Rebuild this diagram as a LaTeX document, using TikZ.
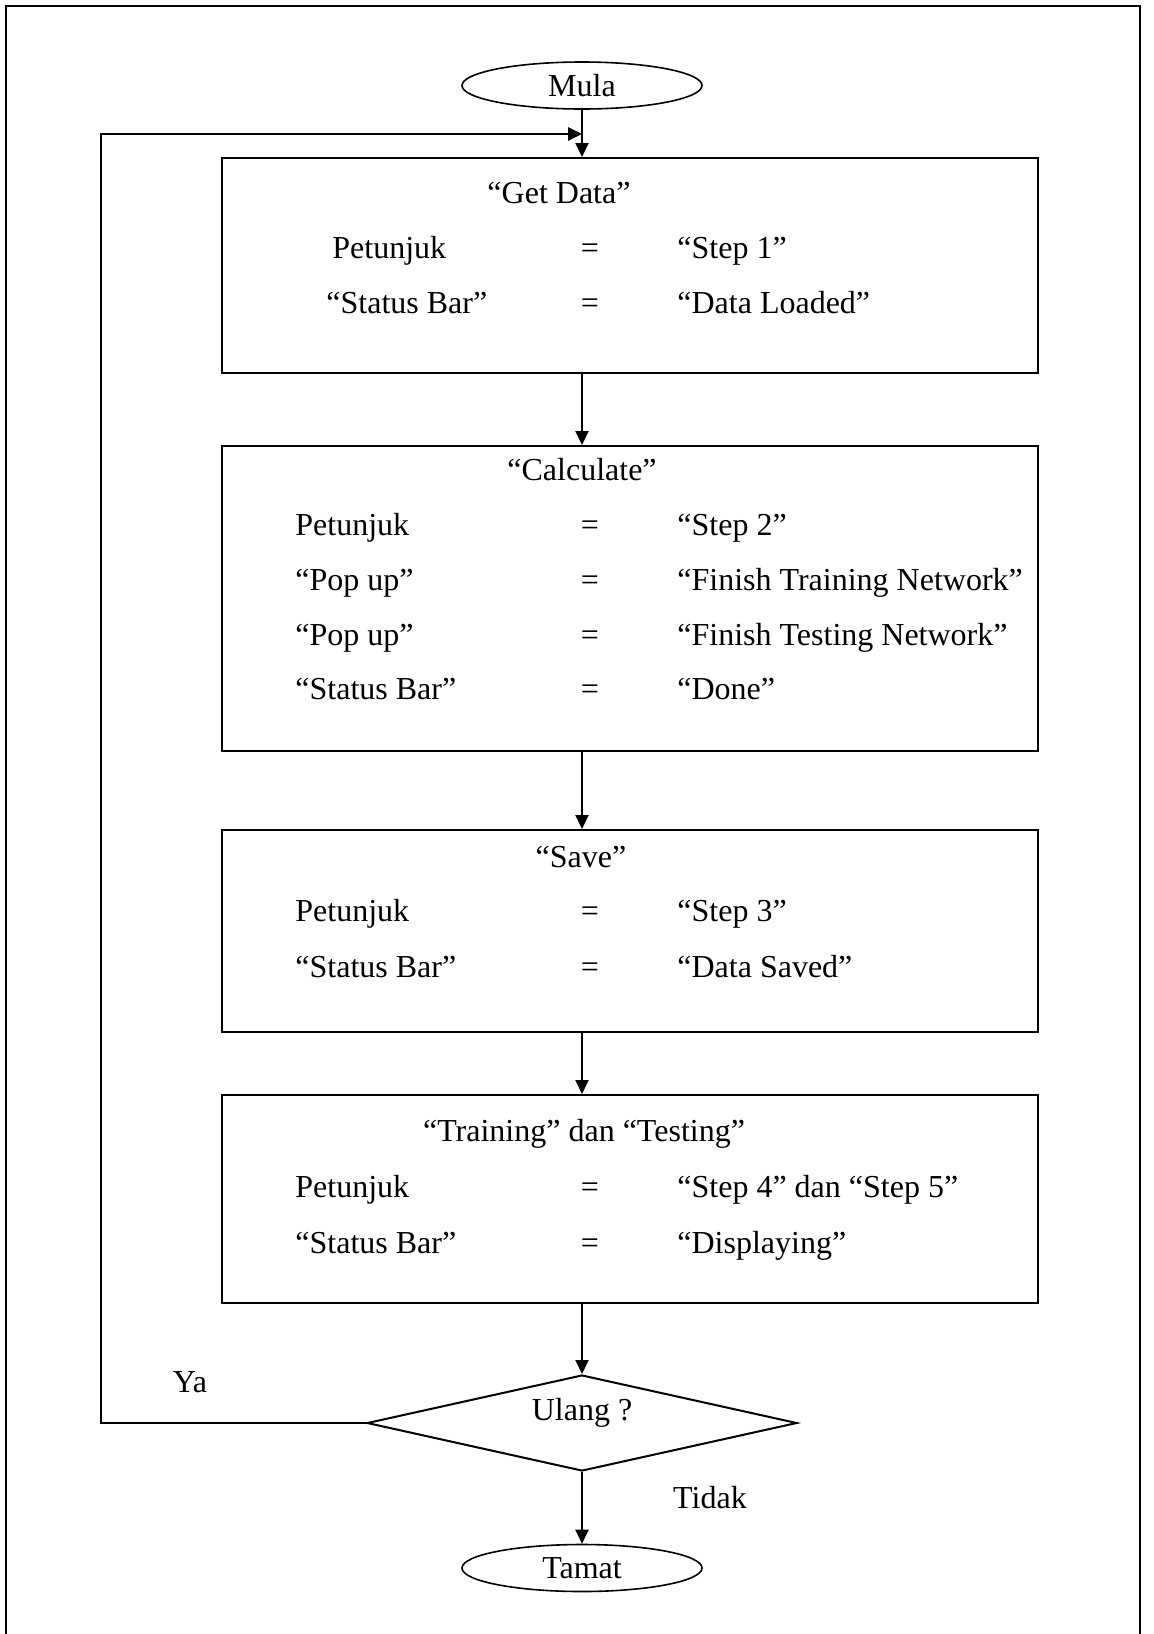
\documentclass[tikz,border=0pt]{standalone}
\usepackage{fontspec}
\setmainfont{Liberation Serif}
\usepackage{tikz}
\usetikzlibrary{positioning,arrows.meta,shapes.geometric}

\begin{document}
\begin{tikzpicture}[x=0.5pt, y=-0.5pt,
  font=\fontsize{16}{19}\selectfont, >={Triangle[length=7pt, width=6.5pt]},
  box/.style={draw, line width=1pt, minimum width=408pt, inner sep=0pt},
  term/.style={draw, ellipse, line width=0.8pt, minimum width=120pt, minimum height=23.5pt, inner sep=0pt},
  dia/.style={draw, diamond, aspect=4, line width=1pt, minimum width=215pt, minimum height=48pt, inner sep=0pt},
  txt/.style={anchor=base west, inner sep=0pt},
  eq/.style={anchor=base, inner sep=0pt},
  flow/.style={->, line width=1pt}]
\useasboundingbox (0,0) rectangle (1153,1634);
% page frame
\draw[line width=0.8pt] (6,1634) -- (6,6) -- (1140,6) -- (1140,1634);
% start and end
\node[term] (mula) at (582,85.5) {Mula};
\node[term] (tamat) at (582,1568) {Tamat};
% boxes
\node[box, minimum height=107.5pt] (box1) at (630,265.5) {};
\node[box, minimum height=152.5pt] (box2) at (630,598.5) {};
\node[box, minimum height=101pt] (box3) at (630,931) {};
\node[box, minimum height=104pt] (box4) at (630,1199) {};
% titles
\node[eq] (t1) at (559,203) {“Get Data”};
\node[eq] (t2) at (582,480) {“Calculate”};
\node[eq] (t3) at (581,867) {“Save”};
\node[eq] (t4) at (584,1141) {“Training” dan “Testing”};
% rows
\foreach \n/\x/\b/\l/\r in {a/332/258/Petunjuk/“Step 1”, b/326/313/“Status Bar”/“Data Loaded”,
  c/295/535/Petunjuk/“Step 2”, d/295/590/“Pop up”/“Finish Training Network”,
  e/295/645/“Pop up”/“Finish Testing Network”, f/295/699/“Status Bar”/“Done”,
  g/295/921/Petunjuk/“Step 3”, h/295/977/“Status Bar”/“Data Saved”,
  i/295/1197/Petunjuk/“Step 4” dan “Step 5”, j/295/1253/“Status Bar”/“Displaying”}{
  \node[txt] (l\n) at (\x,\b) {\l};
  \node[eq] (q\n) at (590,\b) {=};
  \node[txt] (v\n) at (677,\b) {\r};
}
% decision
\node[dia] (ulang) at (582,1423) {\raisebox{14pt}{Ulang ?}};
\node (ya) at (190,1382) {Ya};
\node (tidak) at (710,1498) {Tidak};
% connectors
\draw[flow] (mula) -- (box1.north -| mula);
\draw[flow] (box1.south -| mula) -- (box2.north -| mula);
\draw[flow] (box2.south -| mula) -- (box3.north -| mula);
\draw[flow] (box3.south -| mula) -- (box4.north -| mula);
\draw[flow] (box4.south -| mula) -- (ulang);
\draw[flow] (ulang) -- (tamat);
\coordinate (lp) at (101,134);
\draw[flow, line width=1.3pt] (ulang.west) -| (lp) -- (lp -| mula);
\end{tikzpicture}
\end{document}
